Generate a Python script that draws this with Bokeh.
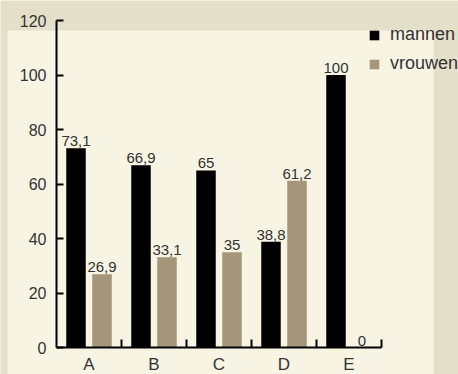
import numpy as np
from bokeh.plotting import figure
from bokeh.models import (Range1d, FixedTicker, BoxAnnotation, Legend,
                          LegendItem, ColumnDataSource, LinearAxis)
from bokeh.core.properties import value
from bokeh.embed import file_html
from bokeh.resources import INLINE

# ---- data ----
categories = ["A", "B", "C", "D", "E"]
mannen = [73.1, 66.9, 65, 38.8, 100]
vrouwen = [26.9, 33.1, 35, 61.2, 0]
series_names = ["mannen", "vrouwen"]
y_ticks = [0, 20, 40, 60, 80, 100, 120]

# ---- style / layout ----
FONT = "Liberation Sans"
TEXT = "#333333"
DARK = "#e3dfc8"
LIGHT = "#f7f4e3"
BLACK = "#000000"
TAUPE = "#a59679"

W, H = 458, 374
X0_PX, PX_PER_CAT = 56, 65          # pixel of category axis start, px per category
Y0_PX, Y_TOP_PX = 347, 20           # pixel of y=0 and of y=max tick
PANEL = dict(left=7, right=433, top=30)   # light panel edges (px)


def fmt(v):
    return f"{v:g}".replace(".", ",")


n = len(categories)
y_max = y_ticks[-1]
px_per_y = (Y0_PX - Y_TOP_PX) / y_max


def xd(px):
    return (px - X0_PX) / PX_PER_CAT


def yd(py):
    return (Y0_PX - py) / px_per_y


centers = np.arange(n) + 0.5
dodge = 0.2
bar_w = 0.3

src_m = ColumnDataSource(dict(x=centers - dodge, top=mannen,
                              lab=[fmt(v) for v in mannen]))
src_v = ColumnDataSource(dict(x=centers + dodge, top=vrouwen,
                              lab=[fmt(v) for v in vrouwen]))

p = figure(width=W, height=H,
           x_range=Range1d(xd(0), xd(W)), y_range=Range1d(yd(H), yd(0)),
           output_backend="svg", toolbar_location=None,
           x_axis_location=None, y_axis_location=None,
           min_border_left=0, min_border_right=0,
           min_border_top=0, min_border_bottom=0)
p.border_fill_color = DARK
p.background_fill_color = DARK
p.outline_line_color = None
p.xgrid.visible = False
p.ygrid.visible = False

# light panel behind everything
panel = BoxAnnotation(left=xd(PANEL["left"]), right=xd(PANEL["right"]),
                      bottom=yd(H + 50), top=yd(PANEL["top"]),
                      fill_color=LIGHT, fill_alpha=1, line_color=None,
                      level="underlay")
p.add_layout(panel)

r_m = p.vbar(x="x", top="top", width=bar_w, source=src_m,
             fill_color=BLACK, line_color=None)
r_v = p.vbar(x="x", top="top", width=bar_w, source=src_v,
             fill_color=TAUPE, line_color=None)

for src in (src_m, src_v):
    p.text(x="x", y="top", text="lab", source=src, text_align="center",
           text_baseline="bottom", y_offset=-2, text_font=value(FONT),
           text_font_size="15px", text_color=TEXT)

# x axis: labels at category centres, ticks at category boundaries
xa = LinearAxis(fixed_location=0, bounds=(0, n))
xa.ticker = FixedTicker(ticks=list(centers),
                        minor_ticks=[float(i) for i in range(1, n + 1)])
xa.major_label_overrides = {float(c): lab for c, lab in zip(centers, categories)}
xa.major_tick_line_color = None
xa.major_tick_in = 0
xa.major_tick_out = 0
xa.minor_tick_in = 8
xa.minor_tick_out = 0
xa.minor_tick_line_color = BLACK
xa.minor_tick_line_width = 2
xa.axis_line_color = BLACK
xa.axis_line_width = 2
xa.major_label_standoff = 7
xa.major_label_text_font = FONT
xa.major_label_text_font_size = "17px"
xa.major_label_text_color = TEXT
p.add_layout(xa, "below")

ya = LinearAxis(fixed_location=0, bounds=(y_ticks[0], y_max))
ya.ticker = FixedTicker(ticks=y_ticks)
ya.major_tick_in = 7
ya.major_tick_out = 0
ya.major_tick_line_color = BLACK
ya.major_tick_line_width = 2
ya.minor_tick_line_color = None
ya.axis_line_color = BLACK
ya.axis_line_width = 2
ya.major_label_standoff = 10
ya.major_label_text_font = FONT
ya.major_label_text_font_size = "16px"
ya.major_label_text_color = TEXT
p.add_layout(ya, "left")

legend = Legend(items=[LegendItem(label=series_names[0], renderers=[r_m]),
                       LegendItem(label=series_names[1], renderers=[r_v])],
                location=(368, H - 74), padding=0, margin=0, spacing=8,
                glyph_width=12, glyph_height=12, label_height=20,
                label_standoff=10, label_text_font=FONT,
                label_text_font_size="18px", label_text_color=TEXT,
                background_fill_alpha=0, border_line_color=None)
p.add_layout(legend)

open("out.html", "w").write(file_html(p, INLINE))
